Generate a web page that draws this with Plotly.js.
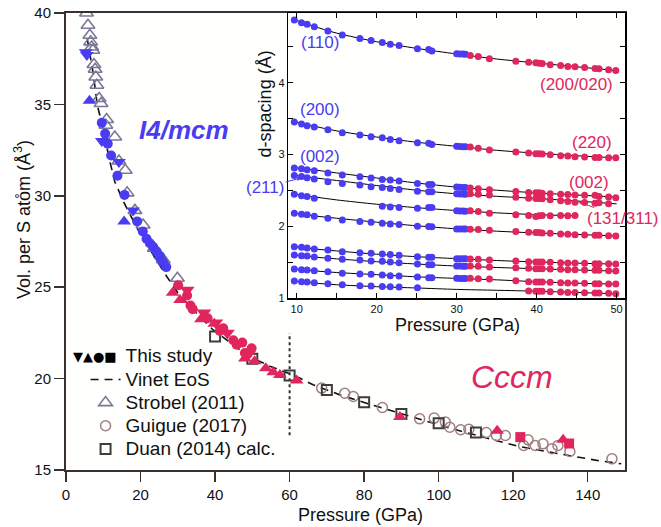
<!DOCTYPE html>
<html><head><meta charset="utf-8">
<script src="https://cdn.plot.ly/plotly-3.0.1.min.js"></script>
<style>html,body{margin:0;padding:0;background:#fff}#chart{width:661px;height:527px}</style>
</head><body><div id="chart"></div>
<script>
// ---------- Main panel: volume per S atom (Å^3) vs pressure (GPa) ----------
const strobelP = [5.5,5.9,6.4,6.6,6.9,7.2,7.5,7.8,8.0,8.3,8.9,9.4,10.9,10.7,13.1,14.2,15.9,16.4,18.5,20.7,23.7,26.1,29.9];
const strobelV = [40.0,39.33,38.78,38.42,38.14,37.96,37.18,36.92,36.5,36.05,35.32,35.05,34.17,33.86,33.22,31.9,31.4,30.16,29.2,28.4,27.13,26.5,25.49];

const guigueP = [68.6,74.8,77.1,84.9,94.9,98.8,101.8,103.0,105.9,108.1,112.8,115.5,117.9,122.8,124.0,125.9,128.0,130.4,132.0,135.2,146.5];
const guigueV = [19.48,19.2,19.02,18.42,17.8,17.84,17.62,17.34,17.2,17.23,17.05,16.89,16.89,16.34,16.65,16.34,16.43,16.16,16.34,16.01,15.61];

const duanP = [40,50,60,70,80,90,100,110];
const duanV = [22.3,21.08,20.17,19.38,18.71,18.07,17.56,17.05];

const vinetP = [5.7,6.6,7.3,8.4,9.4,11.8,13.1,15.2,17.2,19.1,21.2,23.4,25.5,27.0,30.4,32.8,35.9,39.5,43.1,46.7,50.2,54.7,59.2,62.8,66.3,73.5,82.9,92.3,102.1,111.9,121.8,132.5,143.2,149];
const vinetV = [38.6,37.65,36.7,34.96,34.14,31.86,30.77,29.77,28.95,28.22,27.49,26.76,26.09,25.6,24.57,24.03,23.39,22.66,22.11,21.57,21.11,20.68,20.33,20.02,19.66,19.11,18.51,17.92,17.34,16.8,16.28,15.88,15.5,15.34];

// This study, I4/mcm (blue)
const blueDownP = [5.3,5.6,9.6,14.2,18.0,25.2];
const blueDownV = [37.85,37.7,33.0,31.85,29.2,26.5];
const blueUpP = [6.3,15.6];
const blueUpV = [35.2,28.6];
const blueCircP = [9.6,10.5,11.2,12.1,13.8,15.7,19.1,20.6,21.6,22.5,23.4,24.3,25.2,26.1,26.9];
const blueCircV = [34.0,33.4,32.85,32.2,31.1,30.05,28.6,28.05,27.65,27.4,27.2,26.95,26.7,26.35,26.1];

// This study, Cccm (red)
const redUpP = [28.6,30.6,36.2,39.8,48.0,50.6,53.6,55.6,57.4,61.9,89.6,115.7,133.4];
const redUpV = [24.7,24.3,23.25,23.0,21.1,20.95,20.57,20.35,20.2,19.9,17.9,17.15,16.65];
const redDownP = [32.5,37.0,40.2,43.3,49.0];
const redDownV = [24.85,23.6,23.05,22.5,21.35];
const redCircP = [30.1,32.5,33.4,34.0,38.0,41.3,42.2,44.9,45.8,47.3,48.0,49.8];
const redCircV = [25.1,24.55,24.0,23.8,23.3,22.6,22.75,22.1,21.85,21.97,21.4,21.66];
const redSqP = [121.9,135.0];
const redSqV = [16.8,16.45];

const boundaryP = [60,60];
const boundaryV = [16.9,22.5];

// ---------- Inset: d-spacing (Å) vs pressure (GPa) ----------
const insetP_I4 = [9.7,10.6,11.3,12.2,13.9,15.7,17.9,19.3,20.7,21.7,22.8,25.1,26.5,26.9,30.0,30.4,30.8,31.1];
const insetP_Cccm = [31.7,32.7,34.1,37.4,39.0,39.9,40.3,40.7,41.7,43.0,43.9,44.8,46.0,47.3,47.8,49.0,49.9];

const d_I4 = [
  [4.872,4.835,4.812,4.78,4.718,4.663,4.617,4.589,4.561,4.537,4.519,4.473,4.463,4.44,4.403,4.40,4.398,4.395],
  [3.454,3.427,3.403,3.385,3.347,3.305,3.273,3.25,3.236,3.212,3.194,3.166,3.157,3.142,3.115,3.113,3.11,3.108],
  [2.813,2.803,2.789,2.775,2.743,2.715,2.692,2.674,2.655,2.646,2.632,2.598,2.585,2.585,2.548,2.546,2.544,2.542],
  [2.71,2.696,2.678,2.66,2.622,2.598,2.576,2.552,2.543,2.529,2.515,2.492,2.483,2.483,2.455,2.453,2.451,2.45],
  [2.45,2.427,2.418,2.394,null,null,null,null,2.283,2.273,2.264,2.255,2.265,2.265,2.218,2.216,2.214,2.212],
  [2.185,2.171,2.162,2.144,2.116,2.092,2.069,2.06,2.046,2.036,2.027,2.004,1.999,1.995,1.967,1.966,1.965,1.964],
  [1.72,1.711,1.702,1.688,1.674,1.65,1.636,1.628,1.618,1.609,1.60,1.581,1.572,1.572,1.553,1.552,1.551,1.55],
  [1.604,1.594,1.59,1.576,1.558,1.544,1.534,1.52,1.516,1.506,1.497,1.478,1.469,1.469,1.45,1.449,1.448,1.447],
  [1.409,1.399,1.395,1.385,1.371,1.349,1.339,1.335,1.325,1.315,1.311,1.297,1.287,1.287,1.279,1.278,1.277,1.276],
  [1.241,1.232,1.227,1.218,1.204,1.19,1.176,1.172,1.167,1.162,1.158,1.148,null,null,null,null,null,null]
];
const d_Cccm = [
  [4.379,4.365,4.333,4.30,4.286,4.277,4.272,4.268,4.25,4.24,4.226,4.222,4.212,4.198,4.194,4.18,4.17],
  [3.106,3.087,3.064,3.036,3.022,3.013,3.013,3.008,2.999,2.985,2.98,2.971,2.967,2.961,2.961,2.957,2.957],
  [2.534,2.524,2.51,2.487,2.473,2.468,2.468,2.464,2.455,2.45,2.445,2.44,2.436,2.436,2.418,2.41,2.40],
  [2.455,2.45,2.44,2.408,2.394,2.389,2.389,2.385,2.371,2.357,2.347,2.338,2.334,2.325,2.33,2.315,null],
  [2.218,2.208,2.185,2.162,2.152,2.138,2.148,2.152,2.148,2.152,2.148,2.152,null,null,null,null,null],
  [1.962,1.957,1.948,1.929,1.92,1.915,1.915,1.911,1.906,1.897,1.893,1.887,1.883,1.878,1.878,1.873,1.869],
  [1.548,1.544,1.534,1.52,1.511,1.506,1.506,1.506,1.502,1.497,1.492,1.492,1.488,1.483,1.483,1.483,1.478],
  [1.45,1.446,1.437,1.427,1.418,1.413,1.413,1.413,1.409,1.404,1.399,1.399,1.395,1.39,1.39,1.385,1.381],
  [1.279,1.274,1.269,1.246,1.232,1.227,1.227,1.227,1.223,1.218,1.213,1.213,1.209,1.204,1.204,1.20,1.20],
  [null,null,null,null,1.102,1.098,1.098,1.098,1.092,1.088,1.083,1.083,1.078,1.074,1.074,1.07,1.064]
];
const fitP = [9.5,12,15,20,25,30,35,40,45,50];
const fitD = [
  [4.885,4.79,4.69,4.57,4.478,4.40,4.33,4.275,4.222,4.168],
  [3.465,3.40,3.33,3.245,3.172,3.115,3.06,3.02,2.985,2.955],
  [2.82,2.79,2.745,2.675,2.605,2.548,2.505,2.468,2.438,2.41],
  [2.715,2.68,2.64,2.57,2.505,2.455,2.42,2.39,2.355,2.315],
  [2.455,2.415,2.37,2.31,2.262,2.222,2.19,2.165,2.148,null],
  [2.19,2.15,2.115,2.06,2.01,1.967,1.935,1.91,1.89,1.868],
  [1.725,1.69,1.66,1.615,1.58,1.553,1.527,1.507,1.49,1.477],
  [1.607,1.577,1.55,1.51,1.478,1.45,1.43,1.412,1.395,1.38],
  [1.41,1.385,1.36,1.33,1.30,1.278,1.258,1.232,1.212,1.198],
  [1.243,1.215,1.19,1.163,1.145,1.125,1.113,1.10,1.083,1.063]
];

const mainXTicks = [0,20,40,60,80,100,120,140];
const mainYTicks = [15,20,25,30,35,40];
const insetXTicks = [10,15,20,25,30,35,40,45,50];
const insetXText = ['10','','20','','30','','40','','50'];
const insetYTicks = [1,1.5,2,2.5,3,3.5,4,4.5];
const insetYText = ['1','','2','','3','','4',''];

// ---------- styles ----------
const FONT = 'Liberation Sans, Arial, sans-serif';
const BLUE = '#4a3cf2', RED = '#e0265c', STROBEL = '#7a7897', GUIGUE = '#a07f7f', DUAN = '#3d3d3d';
const AX = '#3b3030';
const big = s => '<span style="font-size:19px">' + s + '</span>';

const traces = [];
traces.push({x: vinetP, y: vinetV, mode: 'lines', name: big('Vinet EoS'), legendrank: 2,
  line: {color: '#111', width: 1.6, dash: '8px,6px'}, hoverinfo: 'skip'});
traces.push({x: boundaryP, y: boundaryV, mode: 'lines', showlegend: false,
  line: {color: '#333', width: 2, dash: 'dot'}});
traces.push({x: strobelP, y: strobelV, mode: 'markers', name: big('Strobel (2011)'), legendrank: 3,
  marker: {symbol: 'triangle-up-open', size: 12, color: STROBEL, line: {width: 1.6, color: STROBEL}}});
traces.push({x: guigueP, y: guigueV, mode: 'markers', name: big('Guigue (2017)'), legendrank: 4,
  marker: {symbol: 'circle-open', size: 10, color: GUIGUE, line: {width: 1.5, color: GUIGUE}}});
traces.push({x: duanP, y: duanV, mode: 'markers', name: big('Duan (2014) calc.'), legendrank: 5,
  marker: {symbol: 'square-open', size: 10, color: DUAN, line: {width: 2, color: DUAN}}});
const filled = (x, y, sym, size, col) => ({x, y, mode: 'markers', showlegend: false,
  marker: {symbol: sym, size, color: col, line: {width: 0}}});
traces.push(filled(blueCircP, blueCircV, 'circle', 10, BLUE));
traces.push(filled(blueDownP, blueDownV, 'triangle-down', 12, BLUE));
traces.push(filled(blueUpP, blueUpV, 'triangle-up', 12, BLUE));
traces.push(filled(redCircP, redCircV, 'circle', 10, RED));
traces.push(filled(redDownP, redDownV, 'triangle-down', 13, RED));
traces.push(filled(redUpP, redUpV, 'triangle-up', 12, RED));
traces.push(filled(redSqP, redSqV, 'square', 10, RED));
traces.push({x: [null], y: [null], mode: 'markers', name: big('This study'), legendrank: 1,
  marker: {opacity: 0, size: 1, color: '#000'}});

// inset
for (let i = 0; i < fitD.length; i++) {
  traces.push({x: fitP, y: fitD[i], xaxis: 'x2', yaxis: 'y2', mode: 'lines', showlegend: false,
    line: {color: '#000', width: 1, shape: 'spline', smoothing: 0.8}, connectgaps: false});
}
for (let i = 0; i < d_I4.length; i++) {
  traces.push({x: insetP_I4, y: d_I4[i], xaxis: 'x2', yaxis: 'y2', mode: 'markers', showlegend: false,
    marker: {symbol: 'circle', size: 7, color: BLUE}});
  traces.push({x: insetP_Cccm, y: d_Cccm[i], xaxis: 'x2', yaxis: 'y2', mode: 'markers', showlegend: false,
    marker: {symbol: 'circle', size: 7, color: RED}});
}

const lab = (x, y, text, color) => ({x, y, xref: 'x2', yref: 'y2', text, showarrow: false,
  xanchor: 'center', yanchor: 'middle', font: {family: FONT, size: 17, color}});
const ptxt = (x, y, text, size, angle) => ({x, y, xref: 'paper', yref: 'paper', text, showarrow: false,
  xanchor: 'center', yanchor: 'middle', textangle: angle || 0, font: {family: FONT, size, color: '#111'}});

const annotations = [
  {x: 31.6, y: 33.6, xref: 'x', yref: 'y', text: '<b><i>I4/mcm</i></b>', showarrow: false,
    xanchor: 'center', yanchor: 'middle', font: {family: FONT, size: 26, color: BLUE}},
  {x: 119.6, y: 20.1, xref: 'x', yref: 'y', text: '<i>Cccm</i>', showarrow: false,
    xanchor: 'center', yanchor: 'middle', font: {family: FONT, size: 32, color: RED}},
  {x: 7.8, y: 21.2, xref: 'x', yref: 'y', text: '▼▲●■', showarrow: false,
    xanchor: 'center', yanchor: 'middle', font: {family: 'DejaVu Sans, sans-serif', size: 13, color: '#000'}},
  ptxt(-0.0787, 0.547, 'Vol. per S ato̊m (Å<sup>3</sup>)', 18, -90),
  ptxt(0.527, -0.098, 'Pressure (GPa)', 18),
  ptxt(0.356, 0.80, 'd-spacing (Å)', 18, -90),
  ptxt(0.6995, 0.317, 'Pressure (GPa)', 18),
  lab(12.9, 4.557, '(110)', BLUE),
  lab(45.0, 3.975, '(200/020)', RED),
  lab(12.9, 3.626, '(200)', BLUE),
  lab(46.9, 3.162, '(220)', RED),
  lab(12.9, 2.975, '(002)', BLUE),
  lab(46.6, 2.612, '(002)', RED),
  {x: 10.55, y: 2.674, xref: 'x2', yref: 'y2', text: '(211)', showarrow: true, ax: -36, ay: 9,
    arrowhead: 2, arrowsize: 0.8, arrowwidth: 1, arrowcolor: BLUE, standoff: 0,
    font: {family: FONT, size: 17, color: BLUE}},
  {x: 45.2, y: 2.347, xref: 'x2', yref: 'y2', text: '(131/311)', showarrow: true, ax: 45, ay: 17,
    arrowhead: 2, arrowsize: 0.8, arrowwidth: 1, arrowcolor: RED, standoff: 0,
    font: {family: FONT, size: 17, color: RED}}
];

const layout = {
  width: 661, height: 527,
  paper_bgcolor: '#ffffff', plot_bgcolor: '#fffffe',
  margin: {l: 66, r: 36, t: 13, b: 57},
  font: {family: FONT, color: '#111'},
  showlegend: true,
  legend: {x: 0.035, y: 0.285, xanchor: 'left', yanchor: 'top', bgcolor: 'rgba(0,0,0,0)',
    font: {family: FONT, size: 15.5, color: '#111'}, tracegroupgap: 0},
  xaxis: {range: [0, 150], tickvals: mainXTicks, ticks: 'outside', ticklen: 10, tickwidth: 1.5,
    tickcolor: AX, linecolor: AX, linewidth: 2, mirror: true, showgrid: false, zeroline: false,
    tickfont: {family: FONT, size: 15, color: '#111'}},
  yaxis: {range: [15, 40], tickvals: mainYTicks, ticks: 'outside', ticklen: 10, tickwidth: 1.5,
    tickcolor: AX, linecolor: AX, linewidth: 2, mirror: true, showgrid: false, zeroline: false,
    tickfont: {family: FONT, size: 15, color: '#111'}},
  xaxis2: {domain: [0.3977, 1], anchor: 'y2', range: [8.95, 51.05], tickvals: insetXTicks, ticktext: insetXText,
    ticks: 'inside', ticklen: 5, tickwidth: 1, tickcolor: '#000', linecolor: '#000', linewidth: 1.5,
    mirror: 'ticks', showgrid: false, zeroline: false, tickfont: {family: FONT, size: 11, color: '#111'}},
  yaxis2: {domain: [0.3755, 1], anchor: 'x2', range: [1, 4.97], tickvals: insetYTicks, ticktext: insetYText,
    ticks: 'inside', ticklen: 5, tickwidth: 1, tickcolor: '#000', linecolor: '#000', linewidth: 1.5,
    mirror: 'ticks', showgrid: false, zeroline: false, tickfont: {family: FONT, size: 11, color: '#111'}},
  annotations: annotations
};

Plotly.newPlot('chart', traces, layout, {staticPlot: true, displayModeBar: false});
</script></body></html>
